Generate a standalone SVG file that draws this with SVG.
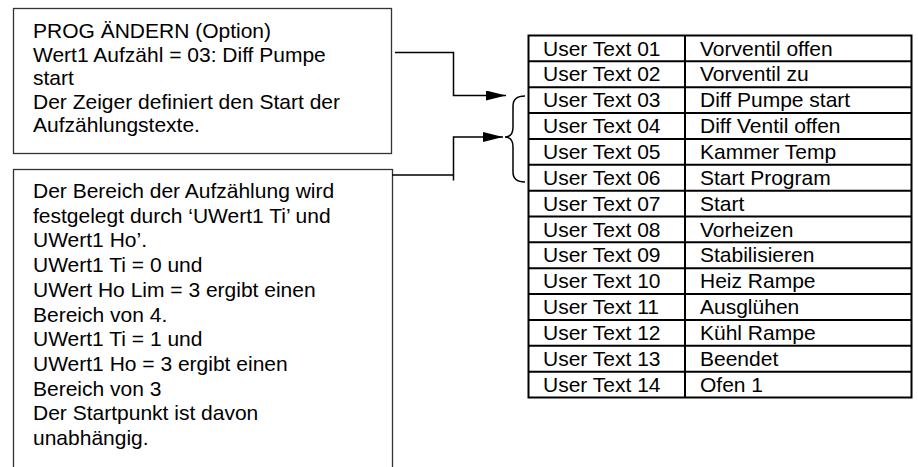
<svg xmlns="http://www.w3.org/2000/svg" width="918" height="467" viewBox="0 0 918 467">
<style>
text{font-family:"Liberation Sans",Arial,sans-serif;font-size:21px;fill:#000}
.box{fill:#fff;stroke:#333;stroke-width:1.3}
.tb{fill:none;stroke:#000;stroke-width:2}
.con{fill:none;stroke:#000;stroke-width:1.5}
</style>
<defs>
<marker id="ah" markerUnits="userSpaceOnUse" markerWidth="22" markerHeight="12" refX="20" refY="5" orient="auto">
<path d="M0,0 L20,5 L0,10 Z" fill="#000"/>
</marker>
</defs>
<rect width="918" height="467" fill="#fff"/>
<g id="box1">
<rect class="box" x="13.5" y="8.5" width="378" height="145"/>
<text x="33" y="38">PROG ÄNDERN (Option)</text>
<text x="33" y="61.5">Wert1 Aufzähl = 03: Diff Pumpe</text>
<text x="33" y="85">start</text>
<text x="33" y="108.5">Der Zeiger definiert den Start der</text>
<text x="33" y="132">Aufzählungstexte.</text>
</g>
<g id="box2">
<rect class="box" x="13.5" y="169.5" width="379" height="320"/>
<text x="33" y="198">Der Bereich der Aufzählung wird</text>
<text x="33" y="222.7">festgelegt durch ‘UWert1 Ti’ und</text>
<text x="33" y="247.4">UWert1 Ho’.</text>
<text x="33" y="272.1">UWert1 Ti = 0 und</text>
<text x="33" y="296.8">UWert Ho Lim = 3 ergibt einen</text>
<text x="33" y="321.5">Bereich von 4.</text>
<text x="33" y="346.2">UWert1 Ti = 1 und</text>
<text x="33" y="370.9">UWert1 Ho = 3 ergibt einen</text>
<text x="33" y="395.6">Bereich von 3</text>
<text x="33" y="420.3">Der Startpunkt ist davon</text>
<text x="33" y="445">unabhängig.</text>
</g>
<g id="connectors">
<path class="con" d="M395,52.5 H453.5 V95.5 H506" marker-end="url(#ah)"/>
<path class="con" d="M392,175 H453.5 M453.5,180.5 V137 H503" marker-end="url(#ah)"/>
<path class="con" stroke-width="1.3" d="M525,96 Q513,96 513,106 V127 Q513,137 505,137 Q513,137 513,147 V172 Q513,182 525,182"/>
</g>
<g id="table">
<rect class="tb" x="528.5" y="35.5" width="383" height="362"/>
<line class="tb" x1="685" y1="35.5" x2="685" y2="397.5"/>
<g class="tb">
<line x1="528.5" y1="61.36" x2="911.5" y2="61.36"/>
<line x1="528.5" y1="87.21" x2="911.5" y2="87.21"/>
<line x1="528.5" y1="113.07" x2="911.5" y2="113.07"/>
<line x1="528.5" y1="138.93" x2="911.5" y2="138.93"/>
<line x1="528.5" y1="164.79" x2="911.5" y2="164.79"/>
<line x1="528.5" y1="190.64" x2="911.5" y2="190.64"/>
<line x1="528.5" y1="216.5" x2="911.5" y2="216.5"/>
<line x1="528.5" y1="242.36" x2="911.5" y2="242.36"/>
<line x1="528.5" y1="268.21" x2="911.5" y2="268.21"/>
<line x1="528.5" y1="294.07" x2="911.5" y2="294.07"/>
<line x1="528.5" y1="319.93" x2="911.5" y2="319.93"/>
<line x1="528.5" y1="345.79" x2="911.5" y2="345.79"/>
<line x1="528.5" y1="371.64" x2="911.5" y2="371.64"/>
</g>
<g id="rows">
<text x="543" y="55.5">User Text 01</text><text x="700" y="55.5">Vorventil offen</text>
<text x="543" y="81.4">User Text 02</text><text x="700" y="81.4">Vorventil zu</text>
<text x="543" y="107.2">User Text 03</text><text x="700" y="107.2">Diff Pumpe start</text>
<text x="543" y="133.1">User Text 04</text><text x="700" y="133.1">Diff Ventil offen</text>
<text x="543" y="158.9">User Text 05</text><text x="700" y="158.9">Kammer Temp</text>
<text x="543" y="184.8">User Text 06</text><text x="700" y="184.8">Start Program</text>
<text x="543" y="210.6">User Text 07</text><text x="700" y="210.6">Start</text>
<text x="543" y="236.5">User Text 08</text><text x="700" y="236.5">Vorheizen</text>
<text x="543" y="262.4">User Text 09</text><text x="700" y="262.4">Stabilisieren</text>
<text x="543" y="288.2">User Text 10</text><text x="700" y="288.2">Heiz Rampe</text>
<text x="543" y="314.1">User Text 11</text><text x="700" y="314.1">Ausglühen</text>
<text x="543" y="339.9">User Text 12</text><text x="700" y="339.9">Kühl Rampe</text>
<text x="543" y="365.8">User Text 13</text><text x="700" y="365.8">Beendet</text>
<text x="543" y="391.6">User Text 14</text><text x="700" y="391.6">Ofen 1</text>
</g>
</g>
</svg>
